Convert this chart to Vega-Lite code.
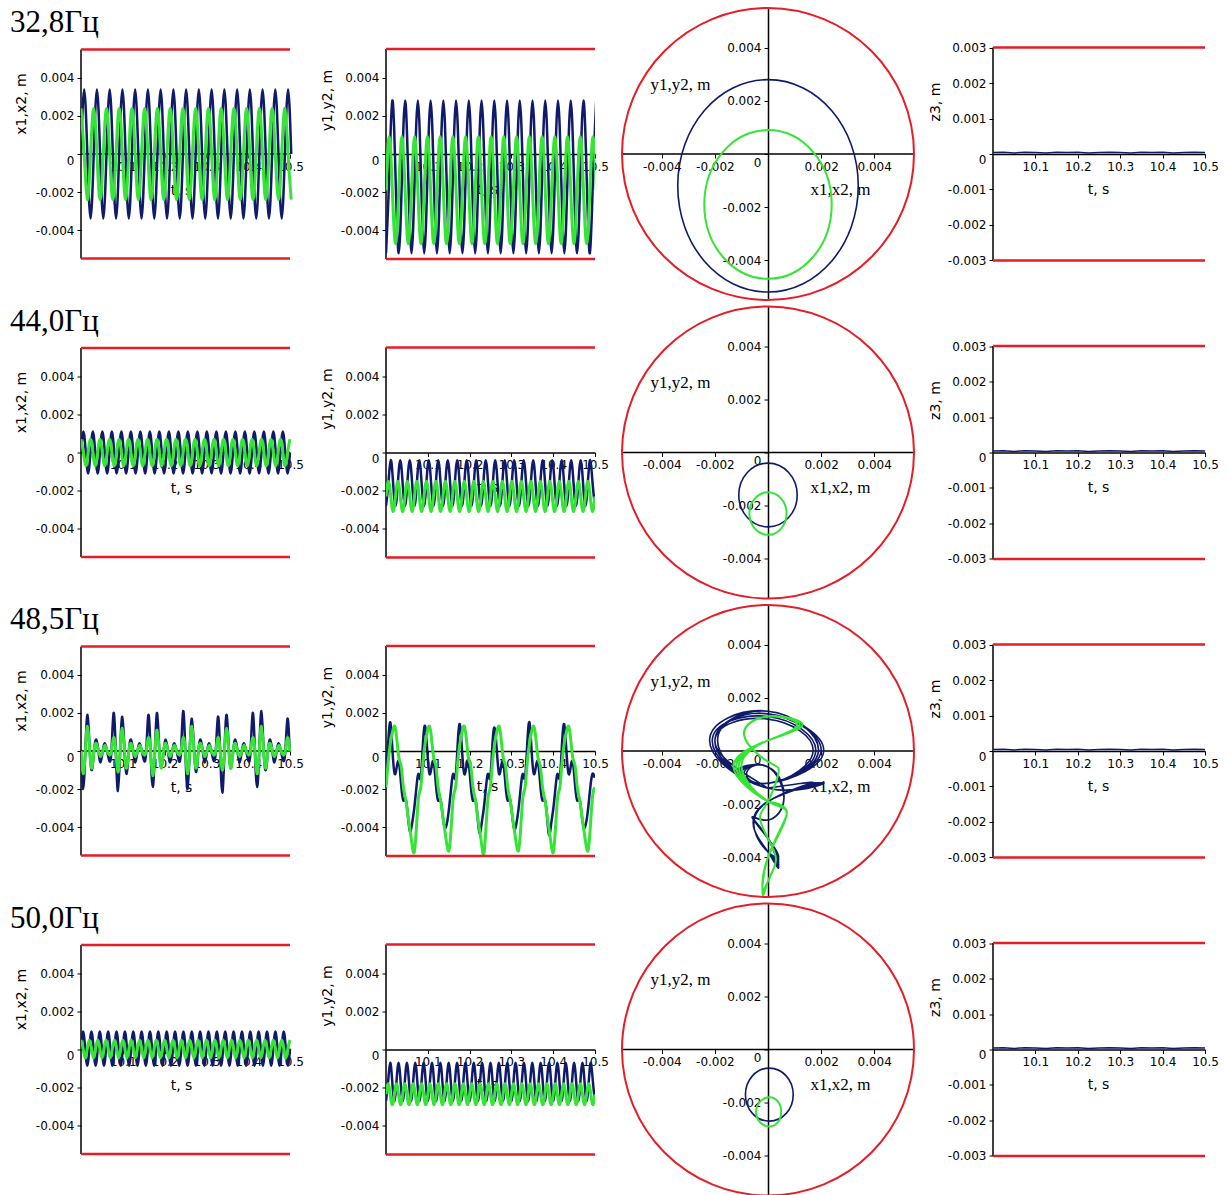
{
"$schema": "https://vega.github.io/schema/vega-lite/v6.json",
"autosize": {"type": "pad"},
"padding": {"left": 10, "top": 4, "right": 5, "bottom": 0},
"background": "white",
"config": {
 "view": {"stroke": null},
 "axis": {"grid": false, "domainColor": "#000", "domainWidth": 1.5, "tickColor": "#000", "tickSize": 4, "tickWidth": 1, "labelColor": "#000", "labelFont": "DejaVu Sans", "labelFontSize": 12, "labelFlush": false, "labelOverlap": false, "labelPadding": 3, "titleColor": "#000", "titleFont": "DejaVu Sans", "titleFontSize": 14, "titleFontWeight": "normal", "titleAlign": "center", "titleBaseline": "middle"}
},
"datasets": {
 "one": [{"k": 0}],
 "r1": [
{"t":10,"x1":0,"y1":-0.0052,"x2":0.0024,"y2":-0.0019},
{"t":10.0076,"x1":0.0034,"y1":-0.0012,"x2":0,"y2":0.0009},
{"t":10.0152,"x1":0,"y1":0.0028,"x2":-0.0024,"y2":-0.0019},
{"t":10.0229,"x1":-0.0034,"y1":-0.0012,"x2":0,"y2":-0.0047},
{"t":10.0305,"x1":0,"y1":-0.0052,"x2":0.0024,"y2":-0.0019},
{"t":10.0381,"x1":0.0034,"y1":-0.0012,"x2":0,"y2":0.0009},
{"t":10.0457,"x1":0,"y1":0.0028,"x2":-0.0024,"y2":-0.0019},
{"t":10.0533,"x1":-0.0034,"y1":-0.0012,"x2":0,"y2":-0.0047},
{"t":10.061,"x1":0,"y1":-0.0052,"x2":0.0024,"y2":-0.0019},
{"t":10.0686,"x1":0.0034,"y1":-0.0012,"x2":0,"y2":0.0009},
{"t":10.0762,"x1":0,"y1":0.0028,"x2":-0.0024,"y2":-0.0019},
{"t":10.0838,"x1":-0.0034,"y1":-0.0012,"x2":0,"y2":-0.0047},
{"t":10.0914,"x1":0,"y1":-0.0052,"x2":0.0024,"y2":-0.0019},
{"t":10.0991,"x1":0.0034,"y1":-0.0012,"x2":0,"y2":0.0009},
{"t":10.1067,"x1":0,"y1":0.0028,"x2":-0.0024,"y2":-0.0019},
{"t":10.1143,"x1":-0.0034,"y1":-0.0012,"x2":0,"y2":-0.0047},
{"t":10.1219,"x1":0,"y1":-0.0052,"x2":0.0024,"y2":-0.0019},
{"t":10.1295,"x1":0.0034,"y1":-0.0012,"x2":0,"y2":0.0009},
{"t":10.1372,"x1":0,"y1":0.0028,"x2":-0.0024,"y2":-0.0019},
{"t":10.1448,"x1":-0.0034,"y1":-0.0012,"x2":0,"y2":-0.0047},
{"t":10.1524,"x1":0,"y1":-0.0052,"x2":0.0024,"y2":-0.0019},
{"t":10.16,"x1":0.0034,"y1":-0.0012,"x2":0,"y2":0.0009},
{"t":10.1676,"x1":0,"y1":0.0028,"x2":-0.0024,"y2":-0.0019},
{"t":10.1753,"x1":-0.0034,"y1":-0.0012,"x2":0,"y2":-0.0047},
{"t":10.1829,"x1":0,"y1":-0.0052,"x2":0.0024,"y2":-0.0019},
{"t":10.1905,"x1":0.0034,"y1":-0.0012,"x2":0,"y2":0.0009},
{"t":10.1981,"x1":0,"y1":0.0028,"x2":-0.0024,"y2":-0.0019},
{"t":10.2057,"x1":-0.0034,"y1":-0.0012,"x2":0,"y2":-0.0047},
{"t":10.2134,"x1":0,"y1":-0.0052,"x2":0.0024,"y2":-0.0019},
{"t":10.221,"x1":0.0034,"y1":-0.0012,"x2":0,"y2":0.0009},
{"t":10.2286,"x1":0,"y1":0.0028,"x2":-0.0024,"y2":-0.0019},
{"t":10.2362,"x1":-0.0034,"y1":-0.0012,"x2":0,"y2":-0.0047},
{"t":10.2438,"x1":0,"y1":-0.0052,"x2":0.0024,"y2":-0.0019},
{"t":10.2515,"x1":0.0034,"y1":-0.0012,"x2":0,"y2":0.0009},
{"t":10.2591,"x1":0,"y1":0.0028,"x2":-0.0024,"y2":-0.0019},
{"t":10.2667,"x1":-0.0034,"y1":-0.0012,"x2":0,"y2":-0.0047},
{"t":10.2743,"x1":0,"y1":-0.0052,"x2":0.0024,"y2":-0.0019},
{"t":10.2819,"x1":0.0034,"y1":-0.0012,"x2":0,"y2":0.0009},
{"t":10.2896,"x1":0,"y1":0.0028,"x2":-0.0024,"y2":-0.0019},
{"t":10.2972,"x1":-0.0034,"y1":-0.0012,"x2":0,"y2":-0.0047},
{"t":10.3048,"x1":0,"y1":-0.0052,"x2":0.0024,"y2":-0.0019},
{"t":10.3124,"x1":0.0034,"y1":-0.0012,"x2":0,"y2":0.0009},
{"t":10.32,"x1":0,"y1":0.0028,"x2":-0.0024,"y2":-0.0019},
{"t":10.3277,"x1":-0.0034,"y1":-0.0012,"x2":0,"y2":-0.0047},
{"t":10.3353,"x1":0,"y1":-0.0052,"x2":0.0024,"y2":-0.0019},
{"t":10.3429,"x1":0.0034,"y1":-0.0012,"x2":0,"y2":0.0009},
{"t":10.3505,"x1":0,"y1":0.0028,"x2":-0.0024,"y2":-0.0019},
{"t":10.3581,"x1":-0.0034,"y1":-0.0012,"x2":0,"y2":-0.0047},
{"t":10.3658,"x1":0,"y1":-0.0052,"x2":0.0024,"y2":-0.0019},
{"t":10.3734,"x1":0.0034,"y1":-0.0012,"x2":0,"y2":0.0009},
{"t":10.381,"x1":0,"y1":0.0028,"x2":-0.0024,"y2":-0.0019},
{"t":10.3886,"x1":-0.0034,"y1":-0.0012,"x2":0,"y2":-0.0047},
{"t":10.3962,"x1":0,"y1":-0.0052,"x2":0.0024,"y2":-0.0019},
{"t":10.4039,"x1":0.0034,"y1":-0.0012,"x2":0,"y2":0.0009},
{"t":10.4115,"x1":0,"y1":0.0028,"x2":-0.0024,"y2":-0.0019},
{"t":10.4191,"x1":-0.0034,"y1":-0.0012,"x2":0,"y2":-0.0047},
{"t":10.4267,"x1":0,"y1":-0.0052,"x2":0.0024,"y2":-0.0019},
{"t":10.4343,"x1":0.0034,"y1":-0.0012,"x2":0,"y2":0.0009},
{"t":10.442,"x1":0,"y1":0.0028,"x2":-0.0024,"y2":-0.0019},
{"t":10.4496,"x1":-0.0034,"y1":-0.0012,"x2":0,"y2":-0.0047},
{"t":10.4572,"x1":0,"y1":-0.0052,"x2":0.0024,"y2":-0.0019},
{"t":10.4648,"x1":0.0034,"y1":-0.0012,"x2":0,"y2":0.0009},
{"t":10.4724,"x1":0,"y1":0.0028,"x2":-0.0024,"y2":-0.0019},
{"t":10.4801,"x1":-0.0034,"y1":-0.0012,"x2":0,"y2":-0.0047},
{"t":10.4877,"x1":0,"y1":-0.0052,"x2":0.0024,"y2":-0.0019},
{"t":10.4953,"x1":0.0034,"y1":-0.0012,"x2":0,"y2":0.0009},
{"t":10.5029,"x1":0,"y1":0.0028,"x2":-0.0024,"y2":-0.0019}
 ],
 "r2": [
{"t":10,"x1":0,"y1":-0.0028,"x2":0.0007,"y2":-0.0023},
{"t":10.0057,"x1":0.0011,"y1":-0.0016,"x2":0,"y2":-0.0015},
{"t":10.0114,"x1":0,"y1":-0.0004,"x2":-0.0007,"y2":-0.0023},
{"t":10.017,"x1":-0.0011,"y1":-0.0016,"x2":0,"y2":-0.0031},
{"t":10.0227,"x1":0,"y1":-0.0028,"x2":0.0007,"y2":-0.0023},
{"t":10.0284,"x1":0.0011,"y1":-0.0016,"x2":0,"y2":-0.0015},
{"t":10.0341,"x1":0,"y1":-0.0004,"x2":-0.0007,"y2":-0.0023},
{"t":10.0398,"x1":-0.0011,"y1":-0.0016,"x2":0,"y2":-0.0031},
{"t":10.0454,"x1":0,"y1":-0.0028,"x2":0.0007,"y2":-0.0023},
{"t":10.0511,"x1":0.0011,"y1":-0.0016,"x2":0,"y2":-0.0015},
{"t":10.0568,"x1":0,"y1":-0.0004,"x2":-0.0007,"y2":-0.0023},
{"t":10.0625,"x1":-0.0011,"y1":-0.0016,"x2":0,"y2":-0.0031},
{"t":10.0682,"x1":0,"y1":-0.0028,"x2":0.0007,"y2":-0.0023},
{"t":10.0738,"x1":0.0011,"y1":-0.0016,"x2":0,"y2":-0.0015},
{"t":10.0795,"x1":0,"y1":-0.0004,"x2":-0.0007,"y2":-0.0023},
{"t":10.0852,"x1":-0.0011,"y1":-0.0016,"x2":0,"y2":-0.0031},
{"t":10.0909,"x1":0,"y1":-0.0028,"x2":0.0007,"y2":-0.0023},
{"t":10.0966,"x1":0.0011,"y1":-0.0016,"x2":0,"y2":-0.0015},
{"t":10.1022,"x1":0,"y1":-0.0004,"x2":-0.0007,"y2":-0.0023},
{"t":10.1079,"x1":-0.0011,"y1":-0.0016,"x2":0,"y2":-0.0031},
{"t":10.1136,"x1":0,"y1":-0.0028,"x2":0.0007,"y2":-0.0023},
{"t":10.1193,"x1":0.0011,"y1":-0.0016,"x2":0,"y2":-0.0015},
{"t":10.125,"x1":0,"y1":-0.0004,"x2":-0.0007,"y2":-0.0023},
{"t":10.1306,"x1":-0.0011,"y1":-0.0016,"x2":0,"y2":-0.0031},
{"t":10.1363,"x1":0,"y1":-0.0028,"x2":0.0007,"y2":-0.0023},
{"t":10.142,"x1":0.0011,"y1":-0.0016,"x2":0,"y2":-0.0015},
{"t":10.1477,"x1":0,"y1":-0.0004,"x2":-0.0007,"y2":-0.0023},
{"t":10.1534,"x1":-0.0011,"y1":-0.0016,"x2":0,"y2":-0.0031},
{"t":10.159,"x1":0,"y1":-0.0028,"x2":0.0007,"y2":-0.0023},
{"t":10.1647,"x1":0.0011,"y1":-0.0016,"x2":0,"y2":-0.0015},
{"t":10.1704,"x1":0,"y1":-0.0004,"x2":-0.0007,"y2":-0.0023},
{"t":10.1761,"x1":-0.0011,"y1":-0.0016,"x2":0,"y2":-0.0031},
{"t":10.1818,"x1":0,"y1":-0.0028,"x2":0.0007,"y2":-0.0023},
{"t":10.1874,"x1":0.0011,"y1":-0.0016,"x2":0,"y2":-0.0015},
{"t":10.1931,"x1":0,"y1":-0.0004,"x2":-0.0007,"y2":-0.0023},
{"t":10.1988,"x1":-0.0011,"y1":-0.0016,"x2":0,"y2":-0.0031},
{"t":10.2045,"x1":0,"y1":-0.0028,"x2":0.0007,"y2":-0.0023},
{"t":10.2102,"x1":0.0011,"y1":-0.0016,"x2":0,"y2":-0.0015},
{"t":10.2158,"x1":0,"y1":-0.0004,"x2":-0.0007,"y2":-0.0023},
{"t":10.2215,"x1":-0.0011,"y1":-0.0016,"x2":0,"y2":-0.0031},
{"t":10.2272,"x1":0,"y1":-0.0028,"x2":0.0007,"y2":-0.0023},
{"t":10.2329,"x1":0.0011,"y1":-0.0016,"x2":0,"y2":-0.0015},
{"t":10.2386,"x1":0,"y1":-0.0004,"x2":-0.0007,"y2":-0.0023},
{"t":10.2442,"x1":-0.0011,"y1":-0.0016,"x2":0,"y2":-0.0031},
{"t":10.2499,"x1":0,"y1":-0.0028,"x2":0.0007,"y2":-0.0023},
{"t":10.2556,"x1":0.0011,"y1":-0.0016,"x2":0,"y2":-0.0015},
{"t":10.2613,"x1":0,"y1":-0.0004,"x2":-0.0007,"y2":-0.0023},
{"t":10.267,"x1":-0.0011,"y1":-0.0016,"x2":0,"y2":-0.0031},
{"t":10.2726,"x1":0,"y1":-0.0028,"x2":0.0007,"y2":-0.0023},
{"t":10.2783,"x1":0.0011,"y1":-0.0016,"x2":0,"y2":-0.0015},
{"t":10.284,"x1":0,"y1":-0.0004,"x2":-0.0007,"y2":-0.0023},
{"t":10.2897,"x1":-0.0011,"y1":-0.0016,"x2":0,"y2":-0.0031},
{"t":10.2954,"x1":0,"y1":-0.0028,"x2":0.0007,"y2":-0.0023},
{"t":10.301,"x1":0.0011,"y1":-0.0016,"x2":0,"y2":-0.0015},
{"t":10.3067,"x1":0,"y1":-0.0004,"x2":-0.0007,"y2":-0.0023},
{"t":10.3124,"x1":-0.0011,"y1":-0.0016,"x2":0,"y2":-0.0031},
{"t":10.3181,"x1":0,"y1":-0.0028,"x2":0.0007,"y2":-0.0023},
{"t":10.3238,"x1":0.0011,"y1":-0.0016,"x2":0,"y2":-0.0015},
{"t":10.3294,"x1":0,"y1":-0.0004,"x2":-0.0007,"y2":-0.0023},
{"t":10.3351,"x1":-0.0011,"y1":-0.0016,"x2":0,"y2":-0.0031},
{"t":10.3408,"x1":0,"y1":-0.0028,"x2":0.0007,"y2":-0.0023},
{"t":10.3465,"x1":0.0011,"y1":-0.0016,"x2":0,"y2":-0.0015},
{"t":10.3522,"x1":0,"y1":-0.0004,"x2":-0.0007,"y2":-0.0023},
{"t":10.3578,"x1":-0.0011,"y1":-0.0016,"x2":0,"y2":-0.0031},
{"t":10.3635,"x1":0,"y1":-0.0028,"x2":0.0007,"y2":-0.0023},
{"t":10.3692,"x1":0.0011,"y1":-0.0016,"x2":0,"y2":-0.0015},
{"t":10.3749,"x1":0,"y1":-0.0004,"x2":-0.0007,"y2":-0.0023},
{"t":10.3806,"x1":-0.0011,"y1":-0.0016,"x2":0,"y2":-0.0031},
{"t":10.3862,"x1":0,"y1":-0.0028,"x2":0.0007,"y2":-0.0023},
{"t":10.3919,"x1":0.0011,"y1":-0.0016,"x2":0,"y2":-0.0015},
{"t":10.3976,"x1":0,"y1":-0.0004,"x2":-0.0007,"y2":-0.0023},
{"t":10.4033,"x1":-0.0011,"y1":-0.0016,"x2":0,"y2":-0.0031},
{"t":10.409,"x1":0,"y1":-0.0028,"x2":0.0007,"y2":-0.0023},
{"t":10.4146,"x1":0.0011,"y1":-0.0016,"x2":0,"y2":-0.0015},
{"t":10.4203,"x1":0,"y1":-0.0004,"x2":-0.0007,"y2":-0.0023},
{"t":10.426,"x1":-0.0011,"y1":-0.0016,"x2":0,"y2":-0.0031},
{"t":10.4317,"x1":0,"y1":-0.0028,"x2":0.0007,"y2":-0.0023},
{"t":10.4374,"x1":0.0011,"y1":-0.0016,"x2":0,"y2":-0.0015},
{"t":10.443,"x1":0,"y1":-0.0004,"x2":-0.0007,"y2":-0.0023},
{"t":10.4487,"x1":-0.0011,"y1":-0.0016,"x2":0,"y2":-0.0031},
{"t":10.4544,"x1":0,"y1":-0.0028,"x2":0.0007,"y2":-0.0023},
{"t":10.4601,"x1":0.0011,"y1":-0.0016,"x2":0,"y2":-0.0015},
{"t":10.4658,"x1":0,"y1":-0.0004,"x2":-0.0007,"y2":-0.0023},
{"t":10.4714,"x1":-0.0011,"y1":-0.0016,"x2":0,"y2":-0.0031},
{"t":10.4771,"x1":0,"y1":-0.0028,"x2":0.0007,"y2":-0.0023},
{"t":10.4828,"x1":0.0011,"y1":-0.0016,"x2":0,"y2":-0.0015},
{"t":10.4885,"x1":0,"y1":-0.0004,"x2":-0.0007,"y2":-0.0023},
{"t":10.4942,"x1":-0.0011,"y1":-0.0016,"x2":0,"y2":-0.0031},
{"t":10.4998,"x1":0,"y1":-0.0028,"x2":0.0007,"y2":-0.0023}
 ],
 "r3": [
{"t":10,"x1":0,"y1":-0.0014,"x2":0,"y2":-0.0019},
{"t":10.0052,"x1":-0.002,"y1":0.0004,"x2":-0.0012,"y2":-0.0006},
{"t":10.0104,"x1":0,"y1":0.0015,"x2":0,"y2":0.0004},
{"t":10.0156,"x1":0.0019,"y1":0,"x2":0.0013,"y2":0.001},
{"t":10.0208,"x1":0.0001,"y1":-0.0012,"x2":0,"y2":0.0013},
{"t":10.026,"x1":-0.001,"y1":-0.0008,"x2":-0.0009,"y2":0.0006},
{"t":10.0312,"x1":0,"y1":-0.0006,"x2":0,"y2":-0.0004},
{"t":10.0364,"x1":0.0006,"y1":-0.0018,"x2":0.0004,"y2":-0.0008},
{"t":10.0416,"x1":0,"y1":-0.0026,"x2":0,"y2":-0.0019},
{"t":10.0468,"x1":-0.0006,"y1":-0.0025,"x2":-0.0003,"y2":-0.0025},
{"t":10.052,"x1":0,"y1":-0.0033,"x2":0,"y2":-0.0033},
{"t":10.0572,"x1":0.0004,"y1":-0.0042,"x2":0.0003,"y2":-0.0041},
{"t":10.0624,"x1":0,"y1":-0.0038,"x2":0,"y2":-0.0049},
{"t":10.0676,"x1":-0.0005,"y1":-0.003,"x2":-0.0002,"y2":-0.0053},
{"t":10.0728,"x1":0,"y1":-0.0019,"x2":0,"y2":-0.004},
{"t":10.078,"x1":0.002,"y1":-0.0012,"x2":0.0007,"y2":-0.0024},
{"t":10.0832,"x1":0,"y1":-0.0014,"x2":0,"y2":-0.0019},
{"t":10.0884,"x1":-0.0021,"y1":0.0004,"x2":-0.0011,"y2":-0.0006},
{"t":10.0936,"x1":0,"y1":0.0013,"x2":0,"y2":0.0004},
{"t":10.0988,"x1":0.0018,"y1":0,"x2":0.0012,"y2":0.001},
{"t":10.104,"x1":0.0001,"y1":-0.0012,"x2":0,"y2":0.0013},
{"t":10.1092,"x1":-0.0012,"y1":-0.0008,"x2":-0.0009,"y2":0.0006},
{"t":10.1144,"x1":0,"y1":-0.0006,"x2":0,"y2":-0.0004},
{"t":10.1196,"x1":0.0006,"y1":-0.0018,"x2":0.0004,"y2":-0.0008},
{"t":10.1248,"x1":0,"y1":-0.0026,"x2":0,"y2":-0.0019},
{"t":10.13,"x1":-0.0006,"y1":-0.0025,"x2":-0.0003,"y2":-0.0025},
{"t":10.1352,"x1":0,"y1":-0.0033,"x2":0,"y2":-0.0033},
{"t":10.1404,"x1":0.0004,"y1":-0.004,"x2":0.0003,"y2":-0.0041},
{"t":10.1456,"x1":0,"y1":-0.0038,"x2":0,"y2":-0.0049},
{"t":10.1508,"x1":-0.0005,"y1":-0.003,"x2":-0.0002,"y2":-0.0052},
{"t":10.156,"x1":0,"y1":-0.0019,"x2":0,"y2":-0.004},
{"t":10.1612,"x1":0.0019,"y1":-0.0012,"x2":0.0007,"y2":-0.0024},
{"t":10.1664,"x1":0,"y1":-0.0014,"x2":0,"y2":-0.0019},
{"t":10.1716,"x1":-0.0019,"y1":0.0004,"x2":-0.0013,"y2":-0.0006},
{"t":10.1768,"x1":0,"y1":0.0014,"x2":0,"y2":0.0004},
{"t":10.182,"x1":0.002,"y1":0,"x2":0.0011,"y2":0.001},
{"t":10.1872,"x1":0.0001,"y1":-0.0012,"x2":0,"y2":0.0013},
{"t":10.1924,"x1":-0.0008,"y1":-0.0008,"x2":-0.0009,"y2":0.0006},
{"t":10.1976,"x1":0,"y1":-0.0006,"x2":0,"y2":-0.0004},
{"t":10.2028,"x1":0.0006,"y1":-0.0018,"x2":0.0004,"y2":-0.0008},
{"t":10.208,"x1":0,"y1":-0.0026,"x2":0,"y2":-0.0019},
{"t":10.2132,"x1":-0.0006,"y1":-0.0025,"x2":-0.0003,"y2":-0.0025},
{"t":10.2184,"x1":0,"y1":-0.0033,"x2":0,"y2":-0.0033},
{"t":10.2236,"x1":0.0004,"y1":-0.0043,"x2":0.0003,"y2":-0.0041},
{"t":10.2288,"x1":0,"y1":-0.0038,"x2":0,"y2":-0.0049},
{"t":10.234,"x1":-0.0005,"y1":-0.003,"x2":-0.0002,"y2":-0.0054},
{"t":10.2392,"x1":0,"y1":-0.0019,"x2":0,"y2":-0.004},
{"t":10.2444,"x1":0.0021,"y1":-0.0012,"x2":0.0007,"y2":-0.0024},
{"t":10.2496,"x1":0,"y1":-0.0014,"x2":0,"y2":-0.0019},
{"t":10.2548,"x1":-0.002,"y1":0.0004,"x2":-0.0012,"y2":-0.0006},
{"t":10.26,"x1":0,"y1":0.0012,"x2":0,"y2":0.0004},
{"t":10.2652,"x1":0.0017,"y1":0,"x2":0.0013,"y2":0.001},
{"t":10.2704,"x1":0.0001,"y1":-0.0012,"x2":0,"y2":0.0013},
{"t":10.2756,"x1":-0.0011,"y1":-0.0008,"x2":-0.0009,"y2":0.0006},
{"t":10.2808,"x1":0,"y1":-0.0006,"x2":0,"y2":-0.0004},
{"t":10.286,"x1":0.0006,"y1":-0.0018,"x2":0.0004,"y2":-0.0008},
{"t":10.2912,"x1":0,"y1":-0.0026,"x2":0,"y2":-0.0019},
{"t":10.2964,"x1":-0.0006,"y1":-0.0025,"x2":-0.0003,"y2":-0.0025},
{"t":10.3016,"x1":0,"y1":-0.0033,"x2":0,"y2":-0.0033},
{"t":10.3068,"x1":0.0004,"y1":-0.0041,"x2":0.0003,"y2":-0.0041},
{"t":10.312,"x1":0,"y1":-0.0038,"x2":0,"y2":-0.0049},
{"t":10.3172,"x1":-0.0005,"y1":-0.003,"x2":-0.0002,"y2":-0.0052},
{"t":10.3224,"x1":0,"y1":-0.0019,"x2":0,"y2":-0.004},
{"t":10.3276,"x1":0.0018,"y1":-0.0012,"x2":0.0007,"y2":-0.0024},
{"t":10.3328,"x1":0,"y1":-0.0014,"x2":0,"y2":-0.0019},
{"t":10.338,"x1":-0.0022,"y1":0.0004,"x2":-0.001,"y2":-0.0006},
{"t":10.3432,"x1":0,"y1":0.0015,"x2":0,"y2":0.0004},
{"t":10.3484,"x1":0.0019,"y1":0,"x2":0.0012,"y2":0.001},
{"t":10.3536,"x1":0.0001,"y1":-0.0012,"x2":0,"y2":0.0013},
{"t":10.3588,"x1":-0.0009,"y1":-0.0008,"x2":-0.0009,"y2":0.0006},
{"t":10.364,"x1":0,"y1":-0.0006,"x2":0,"y2":-0.0004},
{"t":10.3692,"x1":0.0006,"y1":-0.0018,"x2":0.0004,"y2":-0.0008},
{"t":10.3744,"x1":0,"y1":-0.0026,"x2":0,"y2":-0.0019},
{"t":10.3796,"x1":-0.0006,"y1":-0.0025,"x2":-0.0003,"y2":-0.0025},
{"t":10.3848,"x1":0,"y1":-0.0033,"x2":0,"y2":-0.0033},
{"t":10.39,"x1":0.0004,"y1":-0.0044,"x2":0.0003,"y2":-0.0041},
{"t":10.3952,"x1":0,"y1":-0.0038,"x2":0,"y2":-0.0049},
{"t":10.4004,"x1":-0.0005,"y1":-0.003,"x2":-0.0002,"y2":-0.0053},
{"t":10.4056,"x1":0,"y1":-0.0019,"x2":0,"y2":-0.004},
{"t":10.4108,"x1":0.002,"y1":-0.0012,"x2":0.0007,"y2":-0.0024},
{"t":10.416,"x1":0,"y1":-0.0014,"x2":0,"y2":-0.0019},
{"t":10.4212,"x1":-0.0019,"y1":0.0004,"x2":-0.0012,"y2":-0.0006},
{"t":10.4264,"x1":0,"y1":0.0014,"x2":0,"y2":0.0004},
{"t":10.4316,"x1":0.0021,"y1":0,"x2":0.0013,"y2":0.001},
{"t":10.4368,"x1":0.0001,"y1":-0.0012,"x2":0,"y2":0.0013},
{"t":10.442,"x1":-0.001,"y1":-0.0008,"x2":-0.0009,"y2":0.0006},
{"t":10.4472,"x1":0,"y1":-0.0006,"x2":0,"y2":-0.0004},
{"t":10.4524,"x1":0.0006,"y1":-0.0018,"x2":0.0004,"y2":-0.0008},
{"t":10.4576,"x1":0,"y1":-0.0026,"x2":0,"y2":-0.0019},
{"t":10.4628,"x1":-0.0006,"y1":-0.0025,"x2":-0.0003,"y2":-0.0025},
{"t":10.468,"x1":0,"y1":-0.0033,"x2":0,"y2":-0.0033},
{"t":10.4732,"x1":0.0004,"y1":-0.004,"x2":0.0003,"y2":-0.0041},
{"t":10.4784,"x1":0,"y1":-0.0038,"x2":0,"y2":-0.0049},
{"t":10.4836,"x1":-0.0005,"y1":-0.003,"x2":-0.0002,"y2":-0.0052},
{"t":10.4888,"x1":0,"y1":-0.0019,"x2":0,"y2":-0.004},
{"t":10.494,"x1":0.0017,"y1":-0.0012,"x2":0.0007,"y2":-0.0024},
{"t":10.4992,"x1":0,"y1":-0.0014,"x2":0,"y2":-0.0019}
 ],
 "r4": [
{"t":10,"x1":0.00005,"y1":-0.0027,"x2":0.0005,"y2":-0.00235},
{"t":10.005,"x1":0.00095,"y1":-0.0017,"x2":0.00005,"y2":-0.0018},
{"t":10.01,"x1":0.00005,"y1":-0.0007,"x2":-0.00045,"y2":-0.00235},
{"t":10.015,"x1":-0.00085,"y1":-0.0017,"x2":0.00005,"y2":-0.0029},
{"t":10.02,"x1":0.00005,"y1":-0.0027,"x2":0.0005,"y2":-0.00235},
{"t":10.025,"x1":0.00095,"y1":-0.0017,"x2":0.00005,"y2":-0.0018},
{"t":10.03,"x1":0.00005,"y1":-0.0007,"x2":-0.00045,"y2":-0.00235},
{"t":10.035,"x1":-0.00085,"y1":-0.0017,"x2":0.00005,"y2":-0.0029},
{"t":10.04,"x1":0.00005,"y1":-0.0027,"x2":0.0005,"y2":-0.00235},
{"t":10.045,"x1":0.00095,"y1":-0.0017,"x2":0.00005,"y2":-0.0018},
{"t":10.05,"x1":0.00005,"y1":-0.0007,"x2":-0.00045,"y2":-0.00235},
{"t":10.055,"x1":-0.00085,"y1":-0.0017,"x2":0.00005,"y2":-0.0029},
{"t":10.06,"x1":0.00005,"y1":-0.0027,"x2":0.0005,"y2":-0.00235},
{"t":10.065,"x1":0.00095,"y1":-0.0017,"x2":0.00005,"y2":-0.0018},
{"t":10.07,"x1":0.00005,"y1":-0.0007,"x2":-0.00045,"y2":-0.00235},
{"t":10.075,"x1":-0.00085,"y1":-0.0017,"x2":0.00005,"y2":-0.0029},
{"t":10.08,"x1":0.00005,"y1":-0.0027,"x2":0.0005,"y2":-0.00235},
{"t":10.085,"x1":0.00095,"y1":-0.0017,"x2":0.00005,"y2":-0.0018},
{"t":10.09,"x1":0.00005,"y1":-0.0007,"x2":-0.00045,"y2":-0.00235},
{"t":10.095,"x1":-0.00085,"y1":-0.0017,"x2":0.00005,"y2":-0.0029},
{"t":10.1,"x1":0.00005,"y1":-0.0027,"x2":0.0005,"y2":-0.00235},
{"t":10.105,"x1":0.00095,"y1":-0.0017,"x2":0.00005,"y2":-0.0018},
{"t":10.11,"x1":0.00005,"y1":-0.0007,"x2":-0.00045,"y2":-0.00235},
{"t":10.115,"x1":-0.00085,"y1":-0.0017,"x2":0.00005,"y2":-0.0029},
{"t":10.12,"x1":0.00005,"y1":-0.0027,"x2":0.0005,"y2":-0.00235},
{"t":10.125,"x1":0.00095,"y1":-0.0017,"x2":0.00005,"y2":-0.0018},
{"t":10.13,"x1":0.00005,"y1":-0.0007,"x2":-0.00045,"y2":-0.00235},
{"t":10.135,"x1":-0.00085,"y1":-0.0017,"x2":0.00005,"y2":-0.0029},
{"t":10.14,"x1":0.00005,"y1":-0.0027,"x2":0.0005,"y2":-0.00235},
{"t":10.145,"x1":0.00095,"y1":-0.0017,"x2":0.00005,"y2":-0.0018},
{"t":10.15,"x1":0.00005,"y1":-0.0007,"x2":-0.00045,"y2":-0.00235},
{"t":10.155,"x1":-0.00085,"y1":-0.0017,"x2":0.00005,"y2":-0.0029},
{"t":10.16,"x1":0.00005,"y1":-0.0027,"x2":0.0005,"y2":-0.00235},
{"t":10.165,"x1":0.00095,"y1":-0.0017,"x2":0.00005,"y2":-0.0018},
{"t":10.17,"x1":0.00005,"y1":-0.0007,"x2":-0.00045,"y2":-0.00235},
{"t":10.175,"x1":-0.00085,"y1":-0.0017,"x2":0.00005,"y2":-0.0029},
{"t":10.18,"x1":0.00005,"y1":-0.0027,"x2":0.0005,"y2":-0.00235},
{"t":10.185,"x1":0.00095,"y1":-0.0017,"x2":0.00005,"y2":-0.0018},
{"t":10.19,"x1":0.00005,"y1":-0.0007,"x2":-0.00045,"y2":-0.00235},
{"t":10.195,"x1":-0.00085,"y1":-0.0017,"x2":0.00005,"y2":-0.0029},
{"t":10.2,"x1":0.00005,"y1":-0.0027,"x2":0.0005,"y2":-0.00235},
{"t":10.205,"x1":0.00095,"y1":-0.0017,"x2":0.00005,"y2":-0.0018},
{"t":10.21,"x1":0.00005,"y1":-0.0007,"x2":-0.00045,"y2":-0.00235},
{"t":10.215,"x1":-0.00085,"y1":-0.0017,"x2":0.00005,"y2":-0.0029},
{"t":10.22,"x1":0.00005,"y1":-0.0027,"x2":0.0005,"y2":-0.00235},
{"t":10.225,"x1":0.00095,"y1":-0.0017,"x2":0.00005,"y2":-0.0018},
{"t":10.23,"x1":0.00005,"y1":-0.0007,"x2":-0.00045,"y2":-0.00235},
{"t":10.235,"x1":-0.00085,"y1":-0.0017,"x2":0.00005,"y2":-0.0029},
{"t":10.24,"x1":0.00005,"y1":-0.0027,"x2":0.0005,"y2":-0.00235},
{"t":10.245,"x1":0.00095,"y1":-0.0017,"x2":0.00005,"y2":-0.0018},
{"t":10.25,"x1":0.00005,"y1":-0.0007,"x2":-0.00045,"y2":-0.00235},
{"t":10.255,"x1":-0.00085,"y1":-0.0017,"x2":0.00005,"y2":-0.0029},
{"t":10.26,"x1":0.00005,"y1":-0.0027,"x2":0.0005,"y2":-0.00235},
{"t":10.265,"x1":0.00095,"y1":-0.0017,"x2":0.00005,"y2":-0.0018},
{"t":10.27,"x1":0.00005,"y1":-0.0007,"x2":-0.00045,"y2":-0.00235},
{"t":10.275,"x1":-0.00085,"y1":-0.0017,"x2":0.00005,"y2":-0.0029},
{"t":10.28,"x1":0.00005,"y1":-0.0027,"x2":0.0005,"y2":-0.00235},
{"t":10.285,"x1":0.00095,"y1":-0.0017,"x2":0.00005,"y2":-0.0018},
{"t":10.29,"x1":0.00005,"y1":-0.0007,"x2":-0.00045,"y2":-0.00235},
{"t":10.295,"x1":-0.00085,"y1":-0.0017,"x2":0.00005,"y2":-0.0029},
{"t":10.3,"x1":0.00005,"y1":-0.0027,"x2":0.0005,"y2":-0.00235},
{"t":10.305,"x1":0.00095,"y1":-0.0017,"x2":0.00005,"y2":-0.0018},
{"t":10.31,"x1":0.00005,"y1":-0.0007,"x2":-0.00045,"y2":-0.00235},
{"t":10.315,"x1":-0.00085,"y1":-0.0017,"x2":0.00005,"y2":-0.0029},
{"t":10.32,"x1":0.00005,"y1":-0.0027,"x2":0.0005,"y2":-0.00235},
{"t":10.325,"x1":0.00095,"y1":-0.0017,"x2":0.00005,"y2":-0.0018},
{"t":10.33,"x1":0.00005,"y1":-0.0007,"x2":-0.00045,"y2":-0.00235},
{"t":10.335,"x1":-0.00085,"y1":-0.0017,"x2":0.00005,"y2":-0.0029},
{"t":10.34,"x1":0.00005,"y1":-0.0027,"x2":0.0005,"y2":-0.00235},
{"t":10.345,"x1":0.00095,"y1":-0.0017,"x2":0.00005,"y2":-0.0018},
{"t":10.35,"x1":0.00005,"y1":-0.0007,"x2":-0.00045,"y2":-0.00235},
{"t":10.355,"x1":-0.00085,"y1":-0.0017,"x2":0.00005,"y2":-0.0029},
{"t":10.36,"x1":0.00005,"y1":-0.0027,"x2":0.0005,"y2":-0.00235},
{"t":10.365,"x1":0.00095,"y1":-0.0017,"x2":0.00005,"y2":-0.0018},
{"t":10.37,"x1":0.00005,"y1":-0.0007,"x2":-0.00045,"y2":-0.00235},
{"t":10.375,"x1":-0.00085,"y1":-0.0017,"x2":0.00005,"y2":-0.0029},
{"t":10.38,"x1":0.00005,"y1":-0.0027,"x2":0.0005,"y2":-0.00235},
{"t":10.385,"x1":0.00095,"y1":-0.0017,"x2":0.00005,"y2":-0.0018},
{"t":10.39,"x1":0.00005,"y1":-0.0007,"x2":-0.00045,"y2":-0.00235},
{"t":10.395,"x1":-0.00085,"y1":-0.0017,"x2":0.00005,"y2":-0.0029},
{"t":10.4,"x1":0.00005,"y1":-0.0027,"x2":0.0005,"y2":-0.00235},
{"t":10.405,"x1":0.00095,"y1":-0.0017,"x2":0.00005,"y2":-0.0018},
{"t":10.41,"x1":0.00005,"y1":-0.0007,"x2":-0.00045,"y2":-0.00235},
{"t":10.415,"x1":-0.00085,"y1":-0.0017,"x2":0.00005,"y2":-0.0029},
{"t":10.42,"x1":0.00005,"y1":-0.0027,"x2":0.0005,"y2":-0.00235},
{"t":10.425,"x1":0.00095,"y1":-0.0017,"x2":0.00005,"y2":-0.0018},
{"t":10.43,"x1":0.00005,"y1":-0.0007,"x2":-0.00045,"y2":-0.00235},
{"t":10.435,"x1":-0.00085,"y1":-0.0017,"x2":0.00005,"y2":-0.0029},
{"t":10.44,"x1":0.00005,"y1":-0.0027,"x2":0.0005,"y2":-0.00235},
{"t":10.445,"x1":0.00095,"y1":-0.0017,"x2":0.00005,"y2":-0.0018},
{"t":10.45,"x1":0.00005,"y1":-0.0007,"x2":-0.00045,"y2":-0.00235},
{"t":10.455,"x1":-0.00085,"y1":-0.0017,"x2":0.00005,"y2":-0.0029},
{"t":10.46,"x1":0.00005,"y1":-0.0027,"x2":0.0005,"y2":-0.00235},
{"t":10.465,"x1":0.00095,"y1":-0.0017,"x2":0.00005,"y2":-0.0018},
{"t":10.47,"x1":0.00005,"y1":-0.0007,"x2":-0.00045,"y2":-0.00235},
{"t":10.475,"x1":-0.00085,"y1":-0.0017,"x2":0.00005,"y2":-0.0029},
{"t":10.48,"x1":0.00005,"y1":-0.0027,"x2":0.0005,"y2":-0.00235},
{"t":10.485,"x1":0.00095,"y1":-0.0017,"x2":0.00005,"y2":-0.0018},
{"t":10.49,"x1":0.00005,"y1":-0.0007,"x2":-0.00045,"y2":-0.00235},
{"t":10.495,"x1":-0.00085,"y1":-0.0017,"x2":0.00005,"y2":-0.0029},
{"t":10.5,"x1":0.00005,"y1":-0.0027,"x2":0.0005,"y2":-0.00235}
 ],
 "z": [
{"t":10,"z3":0.00004},{"t":10.025,"z3":0.00005},{"t":10.05,"z3":0.00003},{"t":10.075,"z3":0.00005},{"t":10.1,"z3":0.00004},{"t":10.125,"z3":0.00003},{"t":10.15,"z3":0.00005},{"t":10.175,"z3":0.00004},{"t":10.2,"z3":0.00005},{"t":10.225,"z3":0.00003},{"t":10.25,"z3":0.00004},{"t":10.275,"z3":0.00005},{"t":10.3,"z3":0.00004},{"t":10.325,"z3":0.00003},{"t":10.35,"z3":0.00005},{"t":10.375,"z3":0.00004},{"t":10.4,"z3":0.00005},{"t":10.425,"z3":0.00003},{"t":10.45,"z3":0.00004},{"t":10.475,"z3":0.00005},{"t":10.5,"z3":0.00004}
 ],
 "circ": [
{"i":0,"cx":0.0055,"cy":0},{"i":1,"cx":0.005081,"cy":0.002105},{"i":2,"cx":0.003889,"cy":0.003889},{"i":3,"cx":0.002105,"cy":0.005081},{"i":4,"cx":0,"cy":0.0055},{"i":5,"cx":-0.002105,"cy":0.005081},{"i":6,"cx":-0.003889,"cy":0.003889},{"i":7,"cx":-0.005081,"cy":0.002105},{"i":8,"cx":-0.0055,"cy":0},{"i":9,"cx":-0.005081,"cy":-0.002105},{"i":10,"cx":-0.003889,"cy":-0.003889},{"i":11,"cx":-0.002105,"cy":-0.005081},{"i":12,"cx":0,"cy":-0.0055},{"i":13,"cx":0.002105,"cy":-0.005081},{"i":14,"cx":0.003889,"cy":-0.003889},{"i":15,"cx":0.005081,"cy":-0.002105}
 ]
},
"columns": 4,
"spacing": {"row": 6.5, "column": 27},
"bounds": "flush",
"concat": [
 {"width": 278, "height": 292,
  "title": {"text": "32,8Гц", "anchor": "start", "frame": "group", "font": "Liberation Serif", "fontSize": 31, "fontWeight": "normal", "color": "#000", "dx": -71, "dy": 71, "offset": 16, "baseline": "alphabetic"},
  "layer": [
   {"data": {"name": "one"}, "mark": {"type": "rule", "color": "#000", "strokeWidth": 1.5}, "encoding": {"x": {"datum": 10, "type": "quantitative", "scale": {"domain": [10, 10.665], "nice": false, "zero": false}}, "x2": {"datum": 10.5}, "y": {"datum": 0, "type": "quantitative", "scale": {"domain": [-0.0076842, 0.0076842], "nice": false, "zero": false}}}},
   {"data": {"name": "one"}, "mark": {"type": "rule", "color": "#000", "strokeWidth": 1.5}, "encoding": {"x": {"datum": 10, "type": "quantitative", "scale": {"domain": [10, 10.665], "nice": false, "zero": false}}, "y": {"datum": -0.0055, "type": "quantitative", "scale": {"domain": [-0.0076842, 0.0076842], "nice": false, "zero": false}}, "y2": {"datum": 0.0055}}},
   {"data": {"name": "r1"}, "mark": {"type": "line", "color": "#101a6a", "strokeWidth": 2.5, "interpolate": "natural", "clip": true},
    "encoding": {"x": {"field": "t", "type": "quantitative", "scale": {"domain": [10, 10.665], "nice": false, "zero": false}, "axis": {"orient": "bottom", "offset": -146, "domain": false, "values": [10.1, 10.2, 10.3, 10.4, 10.5], "format": ".1f", "title": "t, s", "titleX": 100, "titleY": 36}},
     "y": {"field": "x1", "type": "quantitative", "scale": {"domain": [-0.0076842, 0.0076842], "nice": false, "zero": false}, "axis": {"domain": false, "values": [-0.004, -0.002, 0, 0.002, 0.004], "labelExpr": "replace(format(datum.value,'.3~f'),'−','-')", "labelOffset": {"condition": {"test": "datum.value == 0", "value": 6}, "value": 0}, "title": "x1,x2, m", "titleX": -60, "titleY": 95.5}}}},
   {"data": {"name": "r1"}, "mark": {"type": "line", "color": "#36e436", "strokeWidth": 3, "interpolate": "natural", "clip": true},
    "encoding": {"x": {"field": "t", "type": "quantitative", "scale": {"domain": [10, 10.665], "nice": false, "zero": false}}, "y": {"field": "x2", "type": "quantitative", "scale": {"domain": [-0.0076842, 0.0076842], "nice": false, "zero": false}}}},
   {"data": {"name": "one"}, "mark": {"type": "rule", "color": "#e41e26", "strokeWidth": 2.5}, "encoding": {"x": {"datum": 10, "type": "quantitative", "scale": {"domain": [10, 10.665], "nice": false, "zero": false}}, "x2": {"datum": 10.5}, "y": {"datum": 0.0055, "type": "quantitative", "scale": {"domain": [-0.0076842, 0.0076842], "nice": false, "zero": false}}}},
   {"data": {"name": "one"}, "mark": {"type": "rule", "color": "#e41e26", "strokeWidth": 2.5}, "encoding": {"x": {"datum": 10, "type": "quantitative", "scale": {"domain": [10, 10.665], "nice": false, "zero": false}}, "x2": {"datum": 10.5}, "y": {"datum": -0.0055, "type": "quantitative", "scale": {"domain": [-0.0076842, 0.0076842], "nice": false, "zero": false}}}}
  ]},
 {"width": 209, "height": 292,
  "layer": [
   {"data": {"name": "one"}, "mark": {"type": "rule", "color": "#000", "strokeWidth": 1.5}, "encoding": {"x": {"datum": 10, "type": "quantitative", "scale": {"domain": [10, 10.5], "nice": false, "zero": false}}, "y": {"datum": -0.0055, "type": "quantitative", "scale": {"domain": [-0.0076476, 0.0076476], "nice": false, "zero": false}}, "y2": {"datum": 0.0055}}},
   {"data": {"name": "r1"}, "mark": {"type": "line", "color": "#101a6a", "strokeWidth": 2.5, "interpolate": "natural", "clip": true},
    "encoding": {"x": {"field": "t", "type": "quantitative", "scale": {"domain": [10, 10.5], "nice": false, "zero": false}, "axis": {"orient": "bottom", "offset": -146, "values": [10.1, 10.2, 10.3, 10.4, 10.5], "format": ".1f", "title": "t, s", "titleX": 101, "titleY": 35}},
     "y": {"field": "y1", "type": "quantitative", "scale": {"domain": [-0.0076476, 0.0076476], "nice": false, "zero": false}, "axis": {"domain": false, "values": [-0.004, -0.002, 0, 0.002, 0.004], "labelExpr": "replace(format(datum.value,'.3~f'),'−','-')", "labelOffset": {"condition": {"test": "datum.value == 0", "value": 6}, "value": 0}, "title": "y1,y2, m", "titleX": -59, "titleY": 92}}}},
   {"data": {"name": "r1"}, "mark": {"type": "line", "color": "#36e436", "strokeWidth": 3, "interpolate": "natural", "clip": true},
    "encoding": {"x": {"field": "t", "type": "quantitative", "scale": {"domain": [10, 10.5], "nice": false, "zero": false}}, "y": {"field": "y2", "type": "quantitative", "scale": {"domain": [-0.0076476, 0.0076476], "nice": false, "zero": false}}}},
   {"data": {"name": "one"}, "mark": {"type": "rule", "color": "#e41e26", "strokeWidth": 2.5}, "encoding": {"y": {"datum": 0.0055, "type": "quantitative", "scale": {"domain": [-0.0076476, 0.0076476], "nice": false, "zero": false}}}},
   {"data": {"name": "one"}, "mark": {"type": "rule", "color": "#e41e26", "strokeWidth": 2.5}, "encoding": {"y": {"datum": -0.0055, "type": "quantitative", "scale": {"domain": [-0.0076476, 0.0076476], "nice": false, "zero": false}}}}
  ]},
 {"width": 344, "height": 292,
  "layer": [
   {"data": {"name": "one"}, "mark": {"type": "rule", "color": "#000", "strokeWidth": 1.5}, "encoding": {"x": {"datum": -0.0055, "type": "quantitative", "scale": {"domain": [-0.0055, 0.007459], "nice": false, "zero": false}}, "x2": {"datum": 0.0055}, "y": {"datum": 0, "type": "quantitative", "scale": {"domain": [-0.0055, 0.0055], "nice": false, "zero": false}}}},
   {"data": {"name": "circ"}, "mark": {"type": "line", "color": "#e41e26", "strokeWidth": 2, "interpolate": "cardinal-closed"},
    "encoding": {"x": {"field": "cx", "type": "quantitative", "scale": {"domain": [-0.0055, 0.007459], "nice": false, "zero": false}, "axis": {"orient": "bottom", "offset": -146, "domain": false, "values": [-0.004, -0.002, 0.002, 0.004], "labelExpr": "replace(format(datum.value,'.3~f'),'−','-')", "title": "x1,x2, m", "titleFont": "Liberation Serif", "titleFontSize": 17, "titleX": 218, "titleY": 35}},
     "y": {"field": "cy", "type": "quantitative", "scale": {"domain": [-0.0055, 0.0055], "nice": false, "zero": false}, "axis": {"orient": "left", "offset": -146, "values": [-0.004, -0.002, 0, 0.002, 0.004], "labelExpr": "replace(format(datum.value,'.3~f'),'−','-')", "labelOffset": {"condition": {"test": "datum.value == 0", "value": 8}, "value": 0}, "title": "y1,y2, m", "titleAngle": 0, "titleFont": "Liberation Serif", "titleFontSize": 17, "titleX": -88, "titleY": 76}},
     "order": {"field": "i", "type": "quantitative"}}},
   {"data": {"name": "r1"}, "transform": [{"filter": "datum.t < 10.03"}], "mark": {"type": "line", "color": "#101a6a", "strokeWidth": 1.6, "interpolate": "cardinal-closed", "tension": -0.657},
    "encoding": {"x": {"field": "x1", "type": "quantitative", "scale": {"domain": [-0.0055, 0.007459], "nice": false, "zero": false}}, "y": {"field": "y1", "type": "quantitative", "scale": {"domain": [-0.0055, 0.0055], "nice": false, "zero": false}}, "order": {"field": "t", "type": "quantitative"}}},
   {"data": {"name": "r1"}, "transform": [{"filter": "datum.t < 10.03"}], "mark": {"type": "line", "color": "#36e436", "strokeWidth": 2, "interpolate": "cardinal-closed", "tension": -0.657},
    "encoding": {"x": {"field": "x2", "type": "quantitative", "scale": {"domain": [-0.0055, 0.007459], "nice": false, "zero": false}}, "y": {"field": "y2", "type": "quantitative", "scale": {"domain": [-0.0055, 0.0055], "nice": false, "zero": false}}, "order": {"field": "t", "type": "quantitative"}}}
  ]},
 {"width": 212, "height": 292,
  "resolve": {"axis": {"y": "independent"}},
  "layer": [
   {"data": {"name": "one"}, "mark": {"type": "rule", "color": "#000", "strokeWidth": 1.5}, "encoding": {"x": {"datum": 10, "type": "quantitative", "scale": {"domain": [10, 10.5], "nice": false, "zero": false}}, "y": {"datum": -0.003, "type": "quantitative", "scale": {"domain": [-0.0041127, 0.0041127], "nice": false, "zero": false}, "axis": null}, "y2": {"datum": 0.003}}},
   {"data": {"name": "z"}, "mark": {"type": "line", "color": "#101a6a", "strokeWidth": 1.5, "clip": true},
    "encoding": {"x": {"field": "t", "type": "quantitative", "scale": {"domain": [10, 10.5], "nice": false, "zero": false}, "axis": {"orient": "bottom", "offset": -146, "values": [10.1, 10.2, 10.3, 10.4, 10.5], "format": ".1f", "title": "t, s", "titleX": 105, "titleY": 35}},
     "y": {"field": "z3", "type": "quantitative", "scale": {"domain": [-0.0041127, 0.0041127], "nice": false, "zero": false}, "axis": {"orient": "left", "domain": false, "values": [-0.003, -0.001, 0.001, 0.003], "labelExpr": "replace(format(datum.value,'.3~f'),'−','-')", "title": "z3, m", "titleX": -58, "titleY": 93.5}}}},
   {"data": {"name": "one"}, "mark": {"type": "rule", "color": "#e41e26", "strokeWidth": 2.5}, "encoding": {"y": {"datum": 0.003, "type": "quantitative", "scale": {"domain": [-0.0041127, 0.0041127], "nice": false, "zero": false}, "axis": {"orient": "left", "domain": false, "values": [-0.002, 0, 0.002], "labelExpr": "replace(format(datum.value,'.3~f'),'−','-')", "labelOffset": {"condition": {"test": "datum.value == 0", "value": 5}, "value": 0}, "title": null}}}},
   {"data": {"name": "one"}, "mark": {"type": "rule", "color": "#e41e26", "strokeWidth": 2.5}, "encoding": {"y": {"datum": -0.003, "type": "quantitative", "scale": {"domain": [-0.0041127, 0.0041127], "nice": false, "zero": false}, "axis": null}}}
  ]},

 {"width": 278, "height": 292,
  "title": {"text": "44,0Гц", "anchor": "start", "frame": "group", "font": "Liberation Serif", "fontSize": 31, "fontWeight": "normal", "color": "#000", "dx": -71, "dy": 71, "offset": 16, "baseline": "alphabetic"},
  "layer": [
   {"data": {"name": "one"}, "mark": {"type": "rule", "color": "#000", "strokeWidth": 1.5}, "encoding": {"x": {"datum": 10, "type": "quantitative", "scale": {"domain": [10, 10.665], "nice": false, "zero": false}}, "x2": {"datum": 10.5}, "y": {"datum": 0, "type": "quantitative", "scale": {"domain": [-0.0076842, 0.0076842], "nice": false, "zero": false}}}},
   {"data": {"name": "one"}, "mark": {"type": "rule", "color": "#000", "strokeWidth": 1.5}, "encoding": {"x": {"datum": 10, "type": "quantitative", "scale": {"domain": [10, 10.665], "nice": false, "zero": false}}, "y": {"datum": -0.0055, "type": "quantitative", "scale": {"domain": [-0.0076842, 0.0076842], "nice": false, "zero": false}}, "y2": {"datum": 0.0055}}},
   {"data": {"name": "r2"}, "mark": {"type": "line", "color": "#101a6a", "strokeWidth": 2.5, "interpolate": "natural", "clip": true},
    "encoding": {"x": {"field": "t", "type": "quantitative", "scale": {"domain": [10, 10.665], "nice": false, "zero": false}, "axis": {"orient": "bottom", "offset": -146, "domain": false, "values": [10.1, 10.2, 10.3, 10.4, 10.5], "format": ".1f", "title": "t, s", "titleX": 100, "titleY": 36}},
     "y": {"field": "x1", "type": "quantitative", "scale": {"domain": [-0.0076842, 0.0076842], "nice": false, "zero": false}, "axis": {"domain": false, "values": [-0.004, -0.002, 0, 0.002, 0.004], "labelExpr": "replace(format(datum.value,'.3~f'),'−','-')", "labelOffset": {"condition": {"test": "datum.value == 0", "value": 6}, "value": 0}, "title": "x1,x2, m", "titleX": -60, "titleY": 95.5}}}},
   {"data": {"name": "r2"}, "mark": {"type": "line", "color": "#36e436", "strokeWidth": 3, "interpolate": "natural", "clip": true},
    "encoding": {"x": {"field": "t", "type": "quantitative", "scale": {"domain": [10, 10.665], "nice": false, "zero": false}}, "y": {"field": "x2", "type": "quantitative", "scale": {"domain": [-0.0076842, 0.0076842], "nice": false, "zero": false}}}},
   {"data": {"name": "one"}, "mark": {"type": "rule", "color": "#e41e26", "strokeWidth": 2.5}, "encoding": {"x": {"datum": 10, "type": "quantitative", "scale": {"domain": [10, 10.665], "nice": false, "zero": false}}, "x2": {"datum": 10.5}, "y": {"datum": 0.0055, "type": "quantitative", "scale": {"domain": [-0.0076842, 0.0076842], "nice": false, "zero": false}}}},
   {"data": {"name": "one"}, "mark": {"type": "rule", "color": "#e41e26", "strokeWidth": 2.5}, "encoding": {"x": {"datum": 10, "type": "quantitative", "scale": {"domain": [10, 10.665], "nice": false, "zero": false}}, "x2": {"datum": 10.5}, "y": {"datum": -0.0055, "type": "quantitative", "scale": {"domain": [-0.0076842, 0.0076842], "nice": false, "zero": false}}}}
  ]},
 {"width": 209, "height": 292,
  "layer": [
   {"data": {"name": "one"}, "mark": {"type": "rule", "color": "#000", "strokeWidth": 1.5}, "encoding": {"x": {"datum": 10, "type": "quantitative", "scale": {"domain": [10, 10.5], "nice": false, "zero": false}}, "y": {"datum": -0.0055, "type": "quantitative", "scale": {"domain": [-0.0076476, 0.0076476], "nice": false, "zero": false}}, "y2": {"datum": 0.0055}}},
   {"data": {"name": "r2"}, "mark": {"type": "line", "color": "#101a6a", "strokeWidth": 2.5, "interpolate": "natural", "clip": true},
    "encoding": {"x": {"field": "t", "type": "quantitative", "scale": {"domain": [10, 10.5], "nice": false, "zero": false}, "axis": {"orient": "bottom", "offset": -146, "values": [10.1, 10.2, 10.3, 10.4, 10.5], "format": ".1f", "title": "t, s", "titleX": 101, "titleY": 35}},
     "y": {"field": "y1", "type": "quantitative", "scale": {"domain": [-0.0076476, 0.0076476], "nice": false, "zero": false}, "axis": {"domain": false, "values": [-0.004, -0.002, 0, 0.002, 0.004], "labelExpr": "replace(format(datum.value,'.3~f'),'−','-')", "labelOffset": {"condition": {"test": "datum.value == 0", "value": 6}, "value": 0}, "title": "y1,y2, m", "titleX": -59, "titleY": 92}}}},
   {"data": {"name": "r2"}, "mark": {"type": "line", "color": "#36e436", "strokeWidth": 3, "interpolate": "natural", "clip": true},
    "encoding": {"x": {"field": "t", "type": "quantitative", "scale": {"domain": [10, 10.5], "nice": false, "zero": false}}, "y": {"field": "y2", "type": "quantitative", "scale": {"domain": [-0.0076476, 0.0076476], "nice": false, "zero": false}}}},
   {"data": {"name": "one"}, "mark": {"type": "rule", "color": "#e41e26", "strokeWidth": 2.5}, "encoding": {"y": {"datum": 0.0055, "type": "quantitative", "scale": {"domain": [-0.0076476, 0.0076476], "nice": false, "zero": false}}}},
   {"data": {"name": "one"}, "mark": {"type": "rule", "color": "#e41e26", "strokeWidth": 2.5}, "encoding": {"y": {"datum": -0.0055, "type": "quantitative", "scale": {"domain": [-0.0076476, 0.0076476], "nice": false, "zero": false}}}}
  ]},
 {"width": 344, "height": 292,
  "layer": [
   {"data": {"name": "one"}, "mark": {"type": "rule", "color": "#000", "strokeWidth": 1.5}, "encoding": {"x": {"datum": -0.0055, "type": "quantitative", "scale": {"domain": [-0.0055, 0.007459], "nice": false, "zero": false}}, "x2": {"datum": 0.0055}, "y": {"datum": 0, "type": "quantitative", "scale": {"domain": [-0.0055, 0.0055], "nice": false, "zero": false}}}},
   {"data": {"name": "circ"}, "mark": {"type": "line", "color": "#e41e26", "strokeWidth": 2, "interpolate": "cardinal-closed"},
    "encoding": {"x": {"field": "cx", "type": "quantitative", "scale": {"domain": [-0.0055, 0.007459], "nice": false, "zero": false}, "axis": {"orient": "bottom", "offset": -146, "domain": false, "values": [-0.004, -0.002, 0.002, 0.004], "labelExpr": "replace(format(datum.value,'.3~f'),'−','-')", "title": "x1,x2, m", "titleFont": "Liberation Serif", "titleFontSize": 17, "titleX": 218, "titleY": 35}},
     "y": {"field": "cy", "type": "quantitative", "scale": {"domain": [-0.0055, 0.0055], "nice": false, "zero": false}, "axis": {"orient": "left", "offset": -146, "values": [-0.004, -0.002, 0, 0.002, 0.004], "labelExpr": "replace(format(datum.value,'.3~f'),'−','-')", "labelOffset": {"condition": {"test": "datum.value == 0", "value": 8}, "value": 0}, "title": "y1,y2, m", "titleAngle": 0, "titleFont": "Liberation Serif", "titleFontSize": 17, "titleX": -88, "titleY": 76}},
     "order": {"field": "i", "type": "quantitative"}}},
   {"data": {"name": "r2"}, "transform": [{"filter": "datum.t < 10.02"}], "mark": {"type": "line", "color": "#101a6a", "strokeWidth": 1.6, "interpolate": "cardinal-closed", "tension": -0.657},
    "encoding": {"x": {"field": "x1", "type": "quantitative", "scale": {"domain": [-0.0055, 0.007459], "nice": false, "zero": false}}, "y": {"field": "y1", "type": "quantitative", "scale": {"domain": [-0.0055, 0.0055], "nice": false, "zero": false}}, "order": {"field": "t", "type": "quantitative"}}},
   {"data": {"name": "r2"}, "transform": [{"filter": "datum.t < 10.02"}], "mark": {"type": "line", "color": "#36e436", "strokeWidth": 2, "interpolate": "cardinal-closed", "tension": -0.657},
    "encoding": {"x": {"field": "x2", "type": "quantitative", "scale": {"domain": [-0.0055, 0.007459], "nice": false, "zero": false}}, "y": {"field": "y2", "type": "quantitative", "scale": {"domain": [-0.0055, 0.0055], "nice": false, "zero": false}}, "order": {"field": "t", "type": "quantitative"}}}
  ]},
 {"width": 212, "height": 292,
  "resolve": {"axis": {"y": "independent"}},
  "layer": [
   {"data": {"name": "one"}, "mark": {"type": "rule", "color": "#000", "strokeWidth": 1.5}, "encoding": {"x": {"datum": 10, "type": "quantitative", "scale": {"domain": [10, 10.5], "nice": false, "zero": false}}, "y": {"datum": -0.003, "type": "quantitative", "scale": {"domain": [-0.0041127, 0.0041127], "nice": false, "zero": false}, "axis": null}, "y2": {"datum": 0.003}}},
   {"data": {"name": "z"}, "mark": {"type": "line", "color": "#101a6a", "strokeWidth": 1.5, "clip": true},
    "encoding": {"x": {"field": "t", "type": "quantitative", "scale": {"domain": [10, 10.5], "nice": false, "zero": false}, "axis": {"orient": "bottom", "offset": -146, "values": [10.1, 10.2, 10.3, 10.4, 10.5], "format": ".1f", "title": "t, s", "titleX": 105, "titleY": 35}},
     "y": {"field": "z3", "type": "quantitative", "scale": {"domain": [-0.0041127, 0.0041127], "nice": false, "zero": false}, "axis": {"orient": "left", "domain": false, "values": [-0.003, -0.001, 0.001, 0.003], "labelExpr": "replace(format(datum.value,'.3~f'),'−','-')", "title": "z3, m", "titleX": -58, "titleY": 93.5}}}},
   {"data": {"name": "one"}, "mark": {"type": "rule", "color": "#e41e26", "strokeWidth": 2.5}, "encoding": {"y": {"datum": 0.003, "type": "quantitative", "scale": {"domain": [-0.0041127, 0.0041127], "nice": false, "zero": false}, "axis": {"orient": "left", "domain": false, "values": [-0.002, 0, 0.002], "labelExpr": "replace(format(datum.value,'.3~f'),'−','-')", "labelOffset": {"condition": {"test": "datum.value == 0", "value": 5}, "value": 0}, "title": null}}}},
   {"data": {"name": "one"}, "mark": {"type": "rule", "color": "#e41e26", "strokeWidth": 2.5}, "encoding": {"y": {"datum": -0.003, "type": "quantitative", "scale": {"domain": [-0.0041127, 0.0041127], "nice": false, "zero": false}, "axis": null}}}
  ]},

 {"width": 278, "height": 292,
  "title": {"text": "48,5Гц", "anchor": "start", "frame": "group", "font": "Liberation Serif", "fontSize": 31, "fontWeight": "normal", "color": "#000", "dx": -71, "dy": 71, "offset": 16, "baseline": "alphabetic"},
  "layer": [
   {"data": {"name": "one"}, "mark": {"type": "rule", "color": "#000", "strokeWidth": 1.5}, "encoding": {"x": {"datum": 10, "type": "quantitative", "scale": {"domain": [10, 10.665], "nice": false, "zero": false}}, "x2": {"datum": 10.5}, "y": {"datum": 0, "type": "quantitative", "scale": {"domain": [-0.0076842, 0.0076842], "nice": false, "zero": false}}}},
   {"data": {"name": "one"}, "mark": {"type": "rule", "color": "#000", "strokeWidth": 1.5}, "encoding": {"x": {"datum": 10, "type": "quantitative", "scale": {"domain": [10, 10.665], "nice": false, "zero": false}}, "y": {"datum": -0.0055, "type": "quantitative", "scale": {"domain": [-0.0076842, 0.0076842], "nice": false, "zero": false}}, "y2": {"datum": 0.0055}}},
   {"data": {"name": "r3"}, "mark": {"type": "line", "color": "#101a6a", "strokeWidth": 2.5, "interpolate": "natural", "clip": true},
    "encoding": {"x": {"field": "t", "type": "quantitative", "scale": {"domain": [10, 10.665], "nice": false, "zero": false}, "axis": {"orient": "bottom", "offset": -146, "domain": false, "values": [10.1, 10.2, 10.3, 10.4, 10.5], "format": ".1f", "title": "t, s", "titleX": 100, "titleY": 36}},
     "y": {"field": "x1", "type": "quantitative", "scale": {"domain": [-0.0076842, 0.0076842], "nice": false, "zero": false}, "axis": {"domain": false, "values": [-0.004, -0.002, 0, 0.002, 0.004], "labelExpr": "replace(format(datum.value,'.3~f'),'−','-')", "labelOffset": {"condition": {"test": "datum.value == 0", "value": 6}, "value": 0}, "title": "x1,x2, m", "titleX": -60, "titleY": 95.5}}}},
   {"data": {"name": "r3"}, "mark": {"type": "line", "color": "#36e436", "strokeWidth": 3, "interpolate": "natural", "clip": true},
    "encoding": {"x": {"field": "t", "type": "quantitative", "scale": {"domain": [10, 10.665], "nice": false, "zero": false}}, "y": {"field": "x2", "type": "quantitative", "scale": {"domain": [-0.0076842, 0.0076842], "nice": false, "zero": false}}}},
   {"data": {"name": "one"}, "mark": {"type": "rule", "color": "#e41e26", "strokeWidth": 2.5}, "encoding": {"x": {"datum": 10, "type": "quantitative", "scale": {"domain": [10, 10.665], "nice": false, "zero": false}}, "x2": {"datum": 10.5}, "y": {"datum": 0.0055, "type": "quantitative", "scale": {"domain": [-0.0076842, 0.0076842], "nice": false, "zero": false}}}},
   {"data": {"name": "one"}, "mark": {"type": "rule", "color": "#e41e26", "strokeWidth": 2.5}, "encoding": {"x": {"datum": 10, "type": "quantitative", "scale": {"domain": [10, 10.665], "nice": false, "zero": false}}, "x2": {"datum": 10.5}, "y": {"datum": -0.0055, "type": "quantitative", "scale": {"domain": [-0.0076842, 0.0076842], "nice": false, "zero": false}}}}
  ]},
 {"width": 209, "height": 292,
  "layer": [
   {"data": {"name": "one"}, "mark": {"type": "rule", "color": "#000", "strokeWidth": 1.5}, "encoding": {"x": {"datum": 10, "type": "quantitative", "scale": {"domain": [10, 10.5], "nice": false, "zero": false}}, "y": {"datum": -0.0055, "type": "quantitative", "scale": {"domain": [-0.0076476, 0.0076476], "nice": false, "zero": false}}, "y2": {"datum": 0.0055}}},
   {"data": {"name": "r3"}, "mark": {"type": "line", "color": "#101a6a", "strokeWidth": 2.5, "interpolate": "natural", "clip": true},
    "encoding": {"x": {"field": "t", "type": "quantitative", "scale": {"domain": [10, 10.5], "nice": false, "zero": false}, "axis": {"orient": "bottom", "offset": -146, "values": [10.1, 10.2, 10.3, 10.4, 10.5], "format": ".1f", "title": "t, s", "titleX": 101, "titleY": 35}},
     "y": {"field": "y1", "type": "quantitative", "scale": {"domain": [-0.0076476, 0.0076476], "nice": false, "zero": false}, "axis": {"domain": false, "values": [-0.004, -0.002, 0, 0.002, 0.004], "labelExpr": "replace(format(datum.value,'.3~f'),'−','-')", "labelOffset": {"condition": {"test": "datum.value == 0", "value": 6}, "value": 0}, "title": "y1,y2, m", "titleX": -59, "titleY": 92}}}},
   {"data": {"name": "r3"}, "mark": {"type": "line", "color": "#36e436", "strokeWidth": 3, "interpolate": "natural", "clip": true},
    "encoding": {"x": {"field": "t", "type": "quantitative", "scale": {"domain": [10, 10.5], "nice": false, "zero": false}}, "y": {"field": "y2", "type": "quantitative", "scale": {"domain": [-0.0076476, 0.0076476], "nice": false, "zero": false}}}},
   {"data": {"name": "one"}, "mark": {"type": "rule", "color": "#e41e26", "strokeWidth": 2.5}, "encoding": {"y": {"datum": 0.0055, "type": "quantitative", "scale": {"domain": [-0.0076476, 0.0076476], "nice": false, "zero": false}}}},
   {"data": {"name": "one"}, "mark": {"type": "rule", "color": "#e41e26", "strokeWidth": 2.5}, "encoding": {"y": {"datum": -0.0055, "type": "quantitative", "scale": {"domain": [-0.0076476, 0.0076476], "nice": false, "zero": false}}}}
  ]},
 {"width": 344, "height": 292,
  "layer": [
   {"data": {"name": "one"}, "mark": {"type": "rule", "color": "#000", "strokeWidth": 1.5}, "encoding": {"x": {"datum": -0.0055, "type": "quantitative", "scale": {"domain": [-0.0055, 0.007459], "nice": false, "zero": false}}, "x2": {"datum": 0.0055}, "y": {"datum": 0, "type": "quantitative", "scale": {"domain": [-0.0055, 0.0055], "nice": false, "zero": false}}}},
   {"data": {"name": "circ"}, "mark": {"type": "line", "color": "#e41e26", "strokeWidth": 2, "interpolate": "cardinal-closed"},
    "encoding": {"x": {"field": "cx", "type": "quantitative", "scale": {"domain": [-0.0055, 0.007459], "nice": false, "zero": false}, "axis": {"orient": "bottom", "offset": -146, "domain": false, "values": [-0.004, -0.002, 0.002, 0.004], "labelExpr": "replace(format(datum.value,'.3~f'),'−','-')", "title": "x1,x2, m", "titleFont": "Liberation Serif", "titleFontSize": 17, "titleX": 218, "titleY": 35}},
     "y": {"field": "cy", "type": "quantitative", "scale": {"domain": [-0.0055, 0.0055], "nice": false, "zero": false}, "axis": {"orient": "left", "offset": -146, "values": [-0.004, -0.002, 0, 0.002, 0.004], "labelExpr": "replace(format(datum.value,'.3~f'),'−','-')", "labelOffset": {"condition": {"test": "datum.value == 0", "value": 8}, "value": 0}, "title": "y1,y2, m", "titleAngle": 0, "titleFont": "Liberation Serif", "titleFontSize": 17, "titleX": -88, "titleY": 76}},
     "order": {"field": "i", "type": "quantitative"}}},
   {"data": {"name": "r3"}, "mark": {"type": "line", "color": "#101a6a", "strokeWidth": 1.6, "interpolate": "natural"},
    "encoding": {"x": {"field": "x1", "type": "quantitative", "scale": {"domain": [-0.0055, 0.007459], "nice": false, "zero": false}}, "y": {"field": "y1", "type": "quantitative", "scale": {"domain": [-0.0055, 0.0055], "nice": false, "zero": false}}, "order": {"field": "t", "type": "quantitative"}}},
   {"data": {"name": "r3"}, "mark": {"type": "line", "color": "#36e436", "strokeWidth": 2, "interpolate": "natural"},
    "encoding": {"x": {"field": "x2", "type": "quantitative", "scale": {"domain": [-0.0055, 0.007459], "nice": false, "zero": false}}, "y": {"field": "y2", "type": "quantitative", "scale": {"domain": [-0.0055, 0.0055], "nice": false, "zero": false}}, "order": {"field": "t", "type": "quantitative"}}}
  ]},
 {"width": 212, "height": 292,
  "resolve": {"axis": {"y": "independent"}},
  "layer": [
   {"data": {"name": "one"}, "mark": {"type": "rule", "color": "#000", "strokeWidth": 1.5}, "encoding": {"x": {"datum": 10, "type": "quantitative", "scale": {"domain": [10, 10.5], "nice": false, "zero": false}}, "y": {"datum": -0.003, "type": "quantitative", "scale": {"domain": [-0.0041127, 0.0041127], "nice": false, "zero": false}, "axis": null}, "y2": {"datum": 0.003}}},
   {"data": {"name": "z"}, "mark": {"type": "line", "color": "#101a6a", "strokeWidth": 1.5, "clip": true},
    "encoding": {"x": {"field": "t", "type": "quantitative", "scale": {"domain": [10, 10.5], "nice": false, "zero": false}, "axis": {"orient": "bottom", "offset": -146, "values": [10.1, 10.2, 10.3, 10.4, 10.5], "format": ".1f", "title": "t, s", "titleX": 105, "titleY": 35}},
     "y": {"field": "z3", "type": "quantitative", "scale": {"domain": [-0.0041127, 0.0041127], "nice": false, "zero": false}, "axis": {"orient": "left", "domain": false, "values": [-0.003, -0.001, 0.001, 0.003], "labelExpr": "replace(format(datum.value,'.3~f'),'−','-')", "title": "z3, m", "titleX": -58, "titleY": 93.5}}}},
   {"data": {"name": "one"}, "mark": {"type": "rule", "color": "#e41e26", "strokeWidth": 2.5}, "encoding": {"y": {"datum": 0.003, "type": "quantitative", "scale": {"domain": [-0.0041127, 0.0041127], "nice": false, "zero": false}, "axis": {"orient": "left", "domain": false, "values": [-0.002, 0, 0.002], "labelExpr": "replace(format(datum.value,'.3~f'),'−','-')", "labelOffset": {"condition": {"test": "datum.value == 0", "value": 5}, "value": 0}, "title": null}}}},
   {"data": {"name": "one"}, "mark": {"type": "rule", "color": "#e41e26", "strokeWidth": 2.5}, "encoding": {"y": {"datum": -0.003, "type": "quantitative", "scale": {"domain": [-0.0041127, 0.0041127], "nice": false, "zero": false}, "axis": null}}}
  ]},

 {"width": 278, "height": 292,
  "title": {"text": "50,0Гц", "anchor": "start", "frame": "group", "font": "Liberation Serif", "fontSize": 31, "fontWeight": "normal", "color": "#000", "dx": -71, "dy": 71, "offset": 16, "baseline": "alphabetic"},
  "layer": [
   {"data": {"name": "one"}, "mark": {"type": "rule", "color": "#000", "strokeWidth": 1.5}, "encoding": {"x": {"datum": 10, "type": "quantitative", "scale": {"domain": [10, 10.665], "nice": false, "zero": false}}, "x2": {"datum": 10.5}, "y": {"datum": 0, "type": "quantitative", "scale": {"domain": [-0.0076842, 0.0076842], "nice": false, "zero": false}}}},
   {"data": {"name": "one"}, "mark": {"type": "rule", "color": "#000", "strokeWidth": 1.5}, "encoding": {"x": {"datum": 10, "type": "quantitative", "scale": {"domain": [10, 10.665], "nice": false, "zero": false}}, "y": {"datum": -0.0055, "type": "quantitative", "scale": {"domain": [-0.0076842, 0.0076842], "nice": false, "zero": false}}, "y2": {"datum": 0.0055}}},
   {"data": {"name": "r4"}, "mark": {"type": "line", "color": "#101a6a", "strokeWidth": 2.5, "interpolate": "natural", "clip": true},
    "encoding": {"x": {"field": "t", "type": "quantitative", "scale": {"domain": [10, 10.665], "nice": false, "zero": false}, "axis": {"orient": "bottom", "offset": -146, "domain": false, "values": [10.1, 10.2, 10.3, 10.4, 10.5], "format": ".1f", "title": "t, s", "titleX": 100, "titleY": 36}},
     "y": {"field": "x1", "type": "quantitative", "scale": {"domain": [-0.0076842, 0.0076842], "nice": false, "zero": false}, "axis": {"domain": false, "values": [-0.004, -0.002, 0, 0.002, 0.004], "labelExpr": "replace(format(datum.value,'.3~f'),'−','-')", "labelOffset": {"condition": {"test": "datum.value == 0", "value": 6}, "value": 0}, "title": "x1,x2, m", "titleX": -60, "titleY": 95.5}}}},
   {"data": {"name": "r4"}, "mark": {"type": "line", "color": "#36e436", "strokeWidth": 3, "interpolate": "natural", "clip": true},
    "encoding": {"x": {"field": "t", "type": "quantitative", "scale": {"domain": [10, 10.665], "nice": false, "zero": false}}, "y": {"field": "x2", "type": "quantitative", "scale": {"domain": [-0.0076842, 0.0076842], "nice": false, "zero": false}}}},
   {"data": {"name": "one"}, "mark": {"type": "rule", "color": "#e41e26", "strokeWidth": 2.5}, "encoding": {"x": {"datum": 10, "type": "quantitative", "scale": {"domain": [10, 10.665], "nice": false, "zero": false}}, "x2": {"datum": 10.5}, "y": {"datum": 0.0055, "type": "quantitative", "scale": {"domain": [-0.0076842, 0.0076842], "nice": false, "zero": false}}}},
   {"data": {"name": "one"}, "mark": {"type": "rule", "color": "#e41e26", "strokeWidth": 2.5}, "encoding": {"x": {"datum": 10, "type": "quantitative", "scale": {"domain": [10, 10.665], "nice": false, "zero": false}}, "x2": {"datum": 10.5}, "y": {"datum": -0.0055, "type": "quantitative", "scale": {"domain": [-0.0076842, 0.0076842], "nice": false, "zero": false}}}}
  ]},
 {"width": 209, "height": 292,
  "layer": [
   {"data": {"name": "one"}, "mark": {"type": "rule", "color": "#000", "strokeWidth": 1.5}, "encoding": {"x": {"datum": 10, "type": "quantitative", "scale": {"domain": [10, 10.5], "nice": false, "zero": false}}, "y": {"datum": -0.0055, "type": "quantitative", "scale": {"domain": [-0.0076476, 0.0076476], "nice": false, "zero": false}}, "y2": {"datum": 0.0055}}},
   {"data": {"name": "r4"}, "mark": {"type": "line", "color": "#101a6a", "strokeWidth": 2.5, "interpolate": "natural", "clip": true},
    "encoding": {"x": {"field": "t", "type": "quantitative", "scale": {"domain": [10, 10.5], "nice": false, "zero": false}, "axis": {"orient": "bottom", "offset": -146, "values": [10.1, 10.2, 10.3, 10.4, 10.5], "format": ".1f", "title": "t, s", "titleX": 101, "titleY": 35}},
     "y": {"field": "y1", "type": "quantitative", "scale": {"domain": [-0.0076476, 0.0076476], "nice": false, "zero": false}, "axis": {"domain": false, "values": [-0.004, -0.002, 0, 0.002, 0.004], "labelExpr": "replace(format(datum.value,'.3~f'),'−','-')", "labelOffset": {"condition": {"test": "datum.value == 0", "value": 6}, "value": 0}, "title": "y1,y2, m", "titleX": -59, "titleY": 92}}}},
   {"data": {"name": "r4"}, "mark": {"type": "line", "color": "#36e436", "strokeWidth": 3, "interpolate": "natural", "clip": true},
    "encoding": {"x": {"field": "t", "type": "quantitative", "scale": {"domain": [10, 10.5], "nice": false, "zero": false}}, "y": {"field": "y2", "type": "quantitative", "scale": {"domain": [-0.0076476, 0.0076476], "nice": false, "zero": false}}}},
   {"data": {"name": "one"}, "mark": {"type": "rule", "color": "#e41e26", "strokeWidth": 2.5}, "encoding": {"y": {"datum": 0.0055, "type": "quantitative", "scale": {"domain": [-0.0076476, 0.0076476], "nice": false, "zero": false}}}},
   {"data": {"name": "one"}, "mark": {"type": "rule", "color": "#e41e26", "strokeWidth": 2.5}, "encoding": {"y": {"datum": -0.0055, "type": "quantitative", "scale": {"domain": [-0.0076476, 0.0076476], "nice": false, "zero": false}}}}
  ]},
 {"width": 344, "height": 292,
  "layer": [
   {"data": {"name": "one"}, "mark": {"type": "rule", "color": "#000", "strokeWidth": 1.5}, "encoding": {"x": {"datum": -0.0055, "type": "quantitative", "scale": {"domain": [-0.0055, 0.007459], "nice": false, "zero": false}}, "x2": {"datum": 0.0055}, "y": {"datum": 0, "type": "quantitative", "scale": {"domain": [-0.0055, 0.0055], "nice": false, "zero": false}}}},
   {"data": {"name": "circ"}, "mark": {"type": "line", "color": "#e41e26", "strokeWidth": 2, "interpolate": "cardinal-closed"},
    "encoding": {"x": {"field": "cx", "type": "quantitative", "scale": {"domain": [-0.0055, 0.007459], "nice": false, "zero": false}, "axis": {"orient": "bottom", "offset": -146, "domain": false, "values": [-0.004, -0.002, 0.002, 0.004], "labelExpr": "replace(format(datum.value,'.3~f'),'−','-')", "title": "x1,x2, m", "titleFont": "Liberation Serif", "titleFontSize": 17, "titleX": 218, "titleY": 35}},
     "y": {"field": "cy", "type": "quantitative", "scale": {"domain": [-0.0055, 0.0055], "nice": false, "zero": false}, "axis": {"orient": "left", "offset": -146, "values": [-0.004, -0.002, 0, 0.002, 0.004], "labelExpr": "replace(format(datum.value,'.3~f'),'−','-')", "labelOffset": {"condition": {"test": "datum.value == 0", "value": 8}, "value": 0}, "title": "y1,y2, m", "titleAngle": 0, "titleFont": "Liberation Serif", "titleFontSize": 17, "titleX": -88, "titleY": 76}},
     "order": {"field": "i", "type": "quantitative"}}},
   {"data": {"name": "r4"}, "transform": [{"filter": "datum.t < 10.02"}], "mark": {"type": "line", "color": "#101a6a", "strokeWidth": 1.6, "interpolate": "cardinal-closed", "tension": -0.657},
    "encoding": {"x": {"field": "x1", "type": "quantitative", "scale": {"domain": [-0.0055, 0.007459], "nice": false, "zero": false}}, "y": {"field": "y1", "type": "quantitative", "scale": {"domain": [-0.0055, 0.0055], "nice": false, "zero": false}}, "order": {"field": "t", "type": "quantitative"}}},
   {"data": {"name": "r4"}, "transform": [{"filter": "datum.t < 10.02"}], "mark": {"type": "line", "color": "#36e436", "strokeWidth": 2, "interpolate": "cardinal-closed", "tension": -0.657},
    "encoding": {"x": {"field": "x2", "type": "quantitative", "scale": {"domain": [-0.0055, 0.007459], "nice": false, "zero": false}}, "y": {"field": "y2", "type": "quantitative", "scale": {"domain": [-0.0055, 0.0055], "nice": false, "zero": false}}, "order": {"field": "t", "type": "quantitative"}}}
  ]},
 {"width": 212, "height": 292,
  "resolve": {"axis": {"y": "independent"}},
  "layer": [
   {"data": {"name": "one"}, "mark": {"type": "rule", "color": "#000", "strokeWidth": 1.5}, "encoding": {"x": {"datum": 10, "type": "quantitative", "scale": {"domain": [10, 10.5], "nice": false, "zero": false}}, "y": {"datum": -0.003, "type": "quantitative", "scale": {"domain": [-0.0041127, 0.0041127], "nice": false, "zero": false}, "axis": null}, "y2": {"datum": 0.003}}},
   {"data": {"name": "z"}, "mark": {"type": "line", "color": "#101a6a", "strokeWidth": 1.5, "clip": true},
    "encoding": {"x": {"field": "t", "type": "quantitative", "scale": {"domain": [10, 10.5], "nice": false, "zero": false}, "axis": {"orient": "bottom", "offset": -146, "values": [10.1, 10.2, 10.3, 10.4, 10.5], "format": ".1f", "title": "t, s", "titleX": 105, "titleY": 35}},
     "y": {"field": "z3", "type": "quantitative", "scale": {"domain": [-0.0041127, 0.0041127], "nice": false, "zero": false}, "axis": {"orient": "left", "domain": false, "values": [-0.003, -0.001, 0.001, 0.003], "labelExpr": "replace(format(datum.value,'.3~f'),'−','-')", "title": "z3, m", "titleX": -58, "titleY": 93.5}}}},
   {"data": {"name": "one"}, "mark": {"type": "rule", "color": "#e41e26", "strokeWidth": 2.5}, "encoding": {"y": {"datum": 0.003, "type": "quantitative", "scale": {"domain": [-0.0041127, 0.0041127], "nice": false, "zero": false}, "axis": {"orient": "left", "domain": false, "values": [-0.002, 0, 0.002], "labelExpr": "replace(format(datum.value,'.3~f'),'−','-')", "labelOffset": {"condition": {"test": "datum.value == 0", "value": 5}, "value": 0}, "title": null}}}},
   {"data": {"name": "one"}, "mark": {"type": "rule", "color": "#e41e26", "strokeWidth": 2.5}, "encoding": {"y": {"datum": -0.003, "type": "quantitative", "scale": {"domain": [-0.0041127, 0.0041127], "nice": false, "zero": false}, "axis": null}}}
  ]}
]
}
